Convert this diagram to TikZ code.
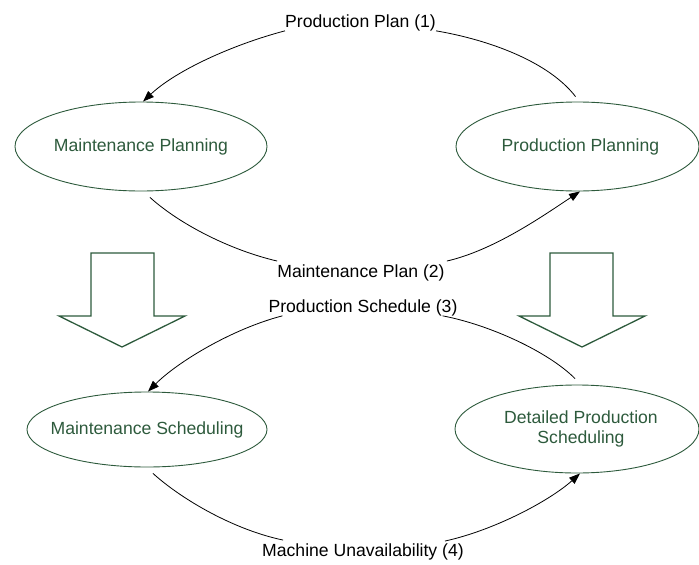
\documentclass[tikz,border=0pt]{standalone}
\usepackage{fontspec}
\setmainfont{Liberation Sans}
\usetikzlibrary{shapes.geometric,arrows.meta}
\definecolor{dgreen}{RGB}{45,90,60}
\tikzset{
  x=1pt,y=-1pt,
  ell/.style={draw=dgreen,line width=0.9pt,ellipse,inner sep=0pt},
  gtext/.style={text=dgreen,font=\fontsize{17.6}{20}\selectfont,inner sep=0pt},
  btext/.style={text=black,font=\fontsize{17.6}{20}\selectfont,inner sep=0pt,anchor=base},
  conn/.style={draw=black,line width=0.8pt},
  arr/.style={conn,-{Triangle[length=11pt,width=8pt]}},
  blockarrow/.style={draw=dgreen,line width=1.3pt,line join=miter}
}
\begin{document}
\begin{tikzpicture}
\useasboundingbox (0,0) rectangle (699,565);
% ellipses
\node[ell,minimum width=252pt,minimum height=89pt,label={[gtext]center:Maintenance Planning}] (mp) at (141,146.5) {};
\node[ell,minimum width=243pt,minimum height=89pt,label={[gtext,xshift=3pt]center:Production Planning}] (pp) at (577.5,146.5) {};
\node[ell,minimum width=240pt,minimum height=75pt,label={[gtext]center:Maintenance Scheduling}] (ms) at (147,429.5) {};
\node[ell,minimum width=244pt,minimum height=88pt,label={[gtext,align=center,xshift=4pt]center:{Detailed Production\\Scheduling}}] (dps) at (577,429) {};
% labels
\node[btext] (l1) at (360.5,27) {Production Plan (1)};
\node[btext] (l2) at (361,277) {Maintenance Plan (2)};
\node[btext] (l3) at (363,312) {Production Schedule (3)};
\node[btext] (l4) at (363,556) {Machine Unavailability (4)};
% block arrows
\draw[blockarrow] (91,253) -- (154,253) -- (154,316) -- (185,316) -- (122,347) -- (59,316) -- (91,316) -- cycle;
\draw[blockarrow] (550,253) -- (613,253) -- (613,316) -- (645,316) -- (582,347) -- (519,316) -- (550,316) -- cycle;
% connectors
\draw[conn] ([xshift=-2pt,yshift=5pt]pp.north) .. controls +(-27,-35) and +(53,9) .. (l1.south east);
\draw[arr] (l1.south west) .. controls +(-53,14) and +(33,-31) .. ([xshift=2pt]mp.north);
\draw[conn] ([xshift=9pt,yshift=-6pt]mp.south) .. controls +(30,27) and +(-47,-11) .. ([yshift=3pt]l2.north west);
\draw[arr] ([xshift=2pt,yshift=3pt]l2.north east) .. controls +(48,-11) and +(-35,23) .. ([xshift=2.5pt]pp.south);
\draw[conn] ([xshift=-2pt,yshift=6pt]dps.north) .. controls +(-27,-27) and +(47,9) .. ([xshift=-15pt]l3.south east);
\draw[arr] ([xshift=14pt]l3.south west) .. controls +(-50,13) and +(30,-30) .. ([xshift=1pt]ms.north);
\draw[conn] ([xshift=6pt,yshift=-6pt]ms.south) .. controls +(30,27) and +(-48,-10) .. ([xshift=21pt,yshift=3pt]l4.north west);
\draw[arr] ([xshift=-19pt,yshift=2pt]l4.north east) .. controls +(50,-11) and +(-30,27) .. ([xshift=3pt]dps.south);
\end{tikzpicture}
\end{document}
